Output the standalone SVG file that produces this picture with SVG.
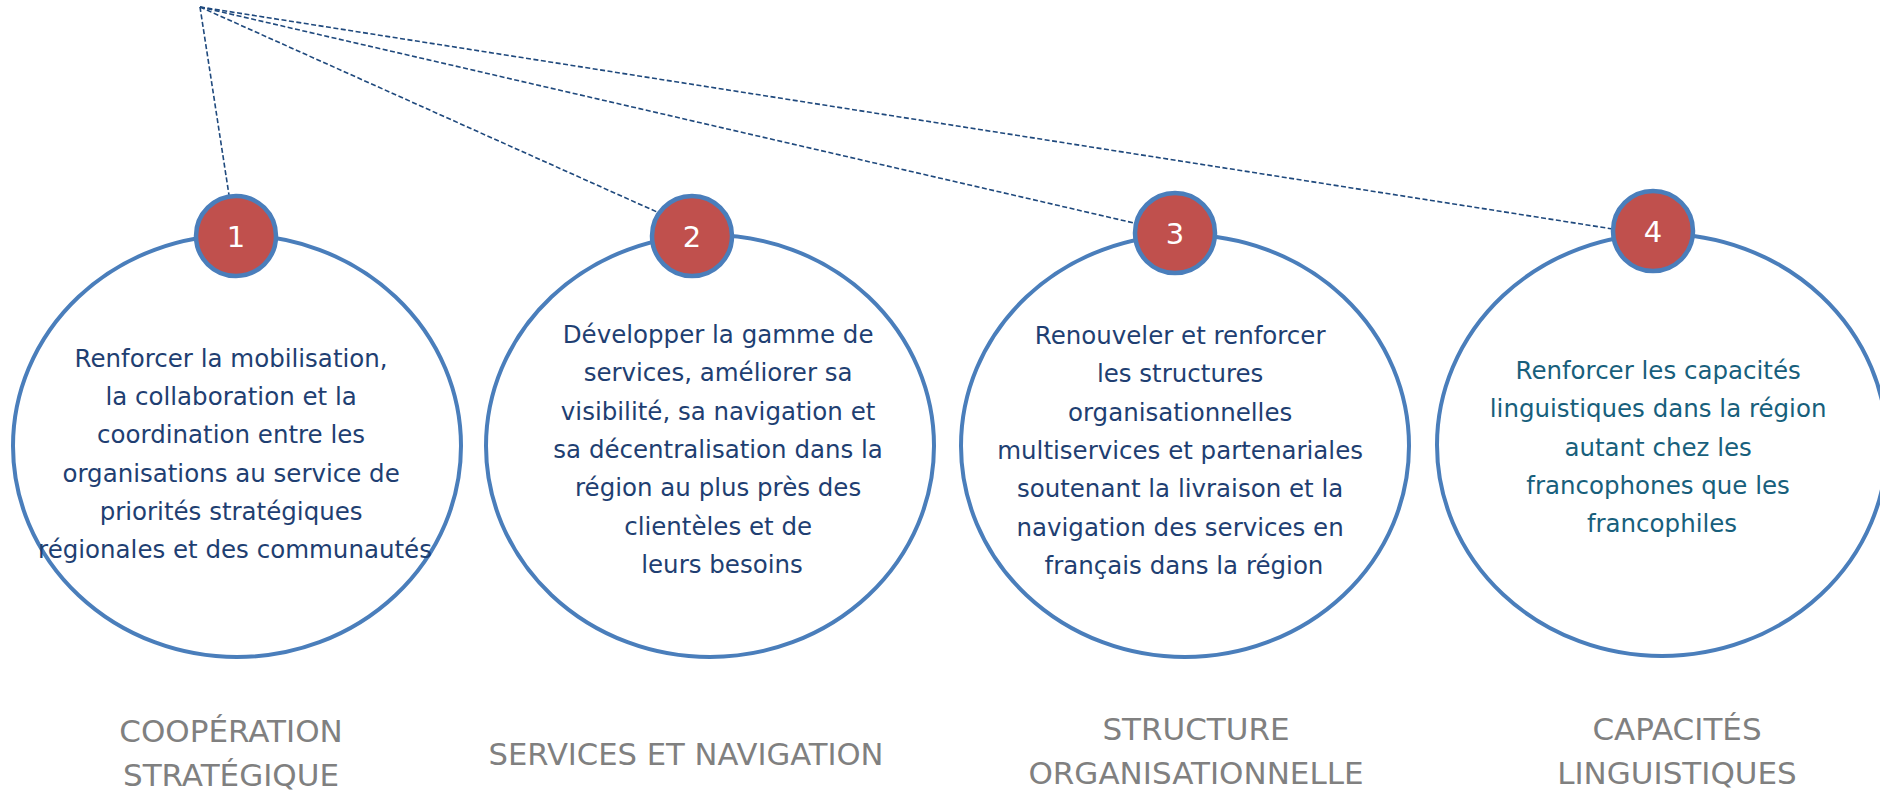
<svg xmlns="http://www.w3.org/2000/svg" width="1880" height="790" viewBox="0 0 1880 790">
<style>
.big{fill:none;stroke:#4A7EBB;stroke-width:4}
.small{fill:#C0504D;stroke:#4A7EBB;stroke-width:4.5}
.num{font-family:"DejaVu Sans",sans-serif;font-size:29px;fill:#FFFFFF;text-anchor:middle}
.txt{font-family:"DejaVu Sans",sans-serif;font-size:24.5px;fill:#1F3F72;text-anchor:middle}
.txt4{fill:#185F7C}
.lbl{font-family:"DejaVu Sans",sans-serif;font-size:31px;fill:#808080;text-anchor:middle}
.con{fill:none;stroke:#1F497D;stroke-width:1.6;stroke-dasharray:5 2.5}
</style>
<rect width="1880" height="790" fill="#FFFFFF"/>
<g id="connectors">
<line class="con" x1="200" y1="7" x2="229" y2="195"/>
<line class="con" x1="200" y1="7" x2="657" y2="212"/>
<line class="con" x1="200" y1="7" x2="1134" y2="223"/>
<line class="con" x1="200" y1="7" x2="1613" y2="229"/>
</g>
<g id="node1">
<ellipse class="big" cx="237" cy="446" rx="224" ry="211"/>
<circle class="small" cx="236" cy="236" r="40"/>
<text class="num" x="236" y="247">1</text>
<text class="txt" x="235" y="366.7">
<tspan x="235">Renforcer la mobilisation,</tspan>
<tspan x="235" dy="38.3">la collaboration et la</tspan>
<tspan x="235" dy="38.3">coordination entre les</tspan>
<tspan x="235" dy="38.3">organisations au service de</tspan>
<tspan x="235" dy="38.3">priorités stratégiques</tspan>
<tspan x="235" dy="38.3">régionales et des communautés</tspan>
</text>
</g>
<g id="node2">
<ellipse class="big" cx="710" cy="446" rx="224" ry="211"/>
<circle class="small" cx="692" cy="236" r="40"/>
<text class="num" x="692" y="247">2</text>
<text class="txt" x="722" y="343">
<tspan x="722">Développer la gamme de</tspan>
<tspan x="722" dy="38.3">services, améliorer sa</tspan>
<tspan x="722" dy="38.3">visibilité, sa navigation et</tspan>
<tspan x="722" dy="38.3">sa décentralisation dans la</tspan>
<tspan x="722" dy="38.3">région au plus près des</tspan>
<tspan x="722" dy="38.3">clientèles et de</tspan>
<tspan x="722" dy="38.3">leurs besoins</tspan>
</text>
</g>
<g id="node3">
<ellipse class="big" cx="1185" cy="446" rx="224" ry="211"/>
<circle class="small" cx="1175" cy="233" r="40"/>
<text class="num" x="1175" y="244">3</text>
<text class="txt" x="1184" y="344">
<tspan x="1184">Renouveler et renforcer</tspan>
<tspan x="1184" dy="38.3">les structures</tspan>
<tspan x="1184" dy="38.3">organisationnelles</tspan>
<tspan x="1184" dy="38.3">multiservices et partenariales</tspan>
<tspan x="1184" dy="38.3">soutenant la livraison et la</tspan>
<tspan x="1184" dy="38.3">navigation des services en</tspan>
<tspan x="1184" dy="38.3">français dans la région</tspan>
</text>
</g>
<g id="node4">
<ellipse class="big" cx="1662" cy="445" rx="225" ry="211"/>
<circle class="small" cx="1653" cy="231" r="40"/>
<text class="num" x="1653" y="242">4</text>
<text class="txt txt4" x="1662" y="379">
<tspan x="1662">Renforcer les capacités</tspan>
<tspan x="1662" dy="38.3">linguistiques dans la région</tspan>
<tspan x="1662" dy="38.3">autant chez les</tspan>
<tspan x="1662" dy="38.3">francophones que les</tspan>
<tspan x="1662" dy="38.3">francophiles</tspan>
</text>
</g>
<g id="labels">
<text class="lbl" x="231" y="742"><tspan x="231">COOPÉRATION</tspan><tspan x="231" dy="44">STRATÉGIQUE</tspan></text>
<text class="lbl" x="686" y="765" textLength="395" lengthAdjust="spacingAndGlyphs">SERVICES ET NAVIGATION</text>
<text class="lbl" x="1196" y="740"><tspan x="1196">STRUCTURE</tspan><tspan x="1196" dy="44">ORGANISATIONNELLE</tspan></text>
<text class="lbl" x="1677" y="740"><tspan x="1677">CAPACITÉS</tspan><tspan x="1677" dy="44">LINGUISTIQUES</tspan></text>
</g>
</svg>
